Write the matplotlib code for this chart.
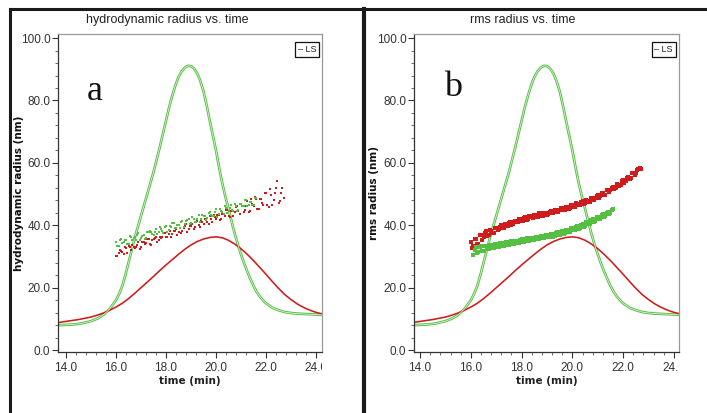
import matplotlib
matplotlib.use("Agg")
import matplotlib.pyplot as plt
from matplotlib import font_manager
from matplotlib.lines import Line2D
from matplotlib.ticker import AutoMinorLocator, FormatStrFormatter
from matplotlib.transforms import Bbox, TransformedBbox

# ---------------- data ----------------
ls_t = [13.75, 14.0, 14.25, 14.5, 14.75, 15.0, 15.25, 15.5, 15.75, 16.0, 16.125, 16.25,
        16.375, 16.5, 16.625, 16.75, 16.875, 17.0, 17.125, 17.25, 17.375, 17.5, 17.625,
        17.75, 17.875, 18.0, 18.125, 18.25, 18.375, 18.5, 18.625, 18.75, 18.875, 19.0,
        19.125, 19.25, 19.375, 19.5, 19.625, 19.75, 19.875, 20.0, 20.125, 20.25, 20.375,
        20.5, 20.625, 20.75, 20.875, 21.0, 21.125, 21.25, 21.375, 21.5, 21.625, 21.75,
        21.875, 22.0, 22.25, 22.5, 22.75, 23.0, 23.25, 23.5, 23.75, 24.0, 24.25]
ls_signal = [8.0, 8.1, 8.2, 8.4, 8.8, 9.3, 10.1, 11.3, 13.2, 16.0, 18.0, 20.5,
             24.0, 28.0, 32.0, 36.0, 39.5, 43.0, 46.5, 50.0, 53.5, 57.0, 61.0,
             65.0, 69.3, 73.5, 77.8, 81.5, 84.8, 87.5, 89.3, 90.5, 91.1, 91.0,
             90.2, 88.7, 86.2, 83.0, 78.5, 73.5, 68.8, 64.0, 58.5, 53.5, 49.2,
             45.3, 41.2, 37.3, 33.8, 30.7, 27.8, 25.2, 22.8, 20.6, 18.7, 17.2,
             16.0, 15.0, 13.6, 12.8, 12.2, 11.9, 11.7, 11.6, 11.5, 11.4, 11.3]
ri_t = [13.75, 14.0, 14.25, 14.5, 14.75, 15.0, 15.25, 15.5, 15.75, 16.0, 16.25, 16.5,
        16.75, 17.0, 17.25, 17.5, 17.75, 18.0, 18.25, 18.5, 18.75, 19.0, 19.25, 19.5,
        19.75, 20.0, 20.25, 20.5, 20.75, 21.0, 21.25, 21.5, 21.75, 22.0, 22.25, 22.5,
        22.75, 23.0, 23.25, 23.5, 23.75, 24.0, 24.25]
ri_signal = [8.9, 9.2, 9.5, 9.8, 10.2, 10.6, 11.2, 11.9, 12.8, 13.8, 15.0, 16.5,
             18.2, 20.0, 21.8, 23.6, 25.5, 27.3, 29.0, 30.7, 32.3, 33.7, 34.8, 35.6,
             36.1, 36.3, 36.0, 35.2, 34.0, 32.5, 30.7, 28.7, 26.5, 24.3, 22.0, 19.8,
             17.8, 16.2, 14.8, 13.7, 12.8, 12.1, 11.6]

# sampling times of the size points
t_a = [16.0, 16.1, 16.2, 16.3, 16.4, 16.5, 16.6, 16.7, 16.8, 16.9,
       17.0, 17.1, 17.2, 17.3, 17.4, 17.5, 17.6, 17.7, 17.8, 17.9,
       18.0, 18.1, 18.2, 18.3, 18.4, 18.5, 18.6, 18.7, 18.8, 18.9,
       19.0, 19.1, 19.2, 19.3, 19.4, 19.5, 19.6, 19.7, 19.8, 19.9,
       20.0, 20.1, 20.2, 20.3, 20.4, 20.5, 20.6, 20.7, 20.8, 20.9,
       21.0, 21.1, 21.2, 21.3, 21.4, 21.5, 21.6, 21.7, 21.8, 21.9,
       22.0, 22.1, 22.2, 22.3, 22.4, 22.5, 22.6, 22.7]
t_b = [16.05, 16.15, 16.25, 16.35, 16.45, 16.55, 16.65, 16.75, 16.85, 16.95,
       17.05, 17.15, 17.25, 17.35, 17.45, 17.55, 17.65, 17.75, 17.85, 17.95,
       18.05, 18.15, 18.25, 18.35, 18.45, 18.55, 18.65, 18.75, 18.85, 18.95,
       19.05, 19.15, 19.25, 19.35, 19.45, 19.55, 19.65, 19.75, 19.85, 19.95,
       20.05, 20.15, 20.25, 20.35, 20.45, 20.55, 20.65, 20.75, 20.85, 20.95,
       21.05, 21.15, 21.25, 21.35, 21.45, 21.55, 21.65, 21.75, 21.85, 21.95,
       22.05, 22.15, 22.25, 22.35, 22.45, 22.55, 22.65]

# panel a: hydrodynamic radius (red run: t_a / t_b ; green run: first 57 / 56 of them)
rh_red_1 = [30.1, 31.0, 31.8, 30.8, 32.7, 33.4, 32.0, 33.0, 32.9, 34.8,
            33.0, 34.5, 34.3, 35.5, 33.8, 35.6, 36.3, 35.2, 35.9, 37.5,
            36.2, 37.2, 36.3, 38.2, 38.7, 37.8, 37.6, 39.1, 40.3, 38.7,
            39.7, 38.7, 40.9, 40.2, 41.7, 40.3, 41.8, 40.3, 42.1, 43.3,
            42.0, 43.3, 42.0, 43.5, 44.9, 43.0, 44.6, 42.9, 45.8, 44.7,
            46.9, 44.3, 46.2, 44.3, 48.4, 46.1, 48.5, 45.2, 48.3, 46.4,
            50.5, 45.8, 49.8, 48.1, 52.0, 47.3, 50.4, 48.6]
rh_red_2 = [30.3, 32.0, 31.5, 33.0, 31.2, 32.9, 33.7, 32.6, 33.6, 32.4,
            34.7, 33.9, 35.6, 34.0, 35.3, 36.0, 34.5, 36.3, 36.1, 37.4,
            36.1, 38.3, 37.1, 38.2, 36.9, 39.0, 38.1, 39.8, 37.9, 39.7,
            40.4, 39.3, 41.3, 39.6, 41.0, 42.0, 40.9, 43.0, 40.9, 42.6,
            43.4, 41.6, 43.7, 42.9, 44.8, 42.6, 45.0, 44.3, 46.3, 43.7,
            46.3, 44.9, 47.8, 44.6, 46.8, 49.0, 45.2, 48.4, 47.2, 50.5,
            46.5, 51.5, 46.4, 50.5, 54.3, 47.9, 52.1]
rh_green_1 = [34.6, 33.4, 35.6, 34.5, 35.4, 34.0, 36.3, 35.8, 35.4, 37.5,
              36.0, 36.9, 35.9, 37.9, 37.7, 36.9, 38.9, 37.9, 38.9, 37.6,
              39.8, 38.6, 39.6, 40.8, 39.2, 40.0, 41.0, 39.3, 41.3, 42.1,
              40.8, 41.9, 40.9, 43.2, 42.1, 43.1, 41.6, 43.9, 43.4, 42.9,
              45.2, 43.6, 44.5, 43.5, 45.7, 44.7, 46.5, 44.7, 46.3, 44.9,
              46.9, 46.3, 48.0, 46.4, 47.6, 46.6, 48.7]
rh_green_2 = [33.4, 35.3, 34.4, 35.4, 34.0, 36.6, 35.2, 36.1, 36.9, 35.4,
              36.7, 35.5, 37.7, 38.3, 37.1, 38.0, 37.2, 39.4, 38.2, 39.5,
              38.0, 39.7, 40.6, 39.2, 40.2, 39.0, 41.4, 40.4, 41.6, 40.4,
              42.8, 41.2, 42.1, 41.2, 43.3, 43.0, 42.2, 44.4, 43.0, 44.2,
              42.8, 45.1, 44.2, 46.1, 44.0, 45.4, 44.8, 46.7, 44.7, 46.8,
              46.1, 48.1, 46.1, 47.5, 46.4, 48.8]

# panel b: rms radius (red run: t_a / t_b ; green run: t_a[1:57] / t_b[1:56])
rg_red_1 = [34.7, 33.3, 35.5, 34.1, 36.9, 36.3, 38.1, 37.0, 38.2, 37.6,
            39.2, 38.8, 40.0, 39.2, 40.1, 40.8, 40.0, 41.2, 41.0, 42.1,
            41.4, 42.2, 41.6, 42.9, 42.5, 43.2, 42.5, 43.8, 43.1, 43.8,
            43.2, 44.4, 44.0, 44.9, 44.3, 45.0, 45.7, 44.9, 45.9, 45.7,
            46.6, 45.8, 46.9, 46.6, 47.8, 47.1, 47.9, 47.6, 48.8, 48.6,
            49.8, 49.3, 50.3, 49.8, 51.4, 51.2, 52.2, 51.8, 53.0, 52.9,
            54.5, 54.3, 55.4, 55.3, 56.8, 56.7, 58.1, 57.9]
rg_red_2 = [32.6, 35.6, 33.9, 36.8, 35.4, 37.6, 36.6, 38.5, 37.6, 39.0,
            38.5, 39.6, 39.1, 40.3, 39.8, 40.9, 40.4, 41.5, 40.9, 42.0,
            41.5, 42.5, 41.9, 42.9, 42.3, 43.4, 42.7, 43.8, 43.1, 44.1,
            43.5, 44.6, 43.9, 45.0, 44.4, 45.5, 44.8, 46.0, 45.3, 46.5,
            45.8, 47.1, 46.4, 47.6, 46.9, 48.2, 47.5, 48.8, 48.1, 49.5,
            48.9, 50.3, 49.7, 51.2, 50.6, 52.1, 51.5, 53.1, 52.5, 54.2,
            53.7, 55.3, 54.9, 56.6, 56.2, 57.7, 58.4]
rg_green_1 = [30.5, 32.9, 31.6, 33.5, 31.9, 33.4, 32.4, 33.8, 32.7, 33.9,
              33.2, 34.3, 33.5, 34.5, 33.8, 34.9, 34.1, 35.0, 34.4, 35.5,
              34.7, 35.8, 35.0, 36.0, 35.3, 36.4, 35.6, 36.7, 35.9, 37.0,
              36.2, 37.3, 36.6, 37.7, 37.0, 38.1, 37.4, 38.6, 38.0, 39.2,
              38.6, 39.8, 39.2, 40.4, 39.7, 41.1, 40.5, 41.9, 41.3, 42.8,
              42.1, 43.6, 42.9, 44.4, 43.8, 45.3]
rg_green_2 = [32.1, 31.2, 33.0, 31.8, 33.3, 32.3, 33.6, 32.6, 33.9, 32.9,
              34.2, 33.3, 34.4, 33.7, 34.8, 34.0, 35.1, 34.3, 35.4, 34.6,
              35.7, 34.9, 36.0, 35.2, 36.3, 35.5, 36.6, 35.8, 36.9, 36.1,
              37.2, 36.4, 37.6, 36.8, 38.0, 37.2, 38.5, 37.8, 39.0, 38.4,
              39.6, 38.9, 40.2, 39.5, 40.9, 40.3, 41.7, 41.0, 42.5, 41.9,
              43.3, 42.7, 44.1, 43.5, 45.0]

x_ticks = [14.0, 16.0, 18.0, 20.0, 22.0, 24.0]
y_ticks = [0.0, 20.0, 40.0, 60.0, 80.0, 100.0]

# ---------------- style ----------------
names = {f.name for f in font_manager.fontManager.ttflist}
narrow = "Liberation Sans Narrow" if "Liberation Sans Narrow" in names else "Liberation Sans"

GREEN = "#55BF44"
RED = "#CF1B1B"
W, H = 707, 413

fig = plt.figure(figsize=(W / 100, H / 100), dpi=100)
fig.patch.set_facecolor("white")


def px_axes(l, r, t, b):
    return [l / W, 1 - b / H, (r - l) / W, (b - t) / H]


panels = [
    dict(rect=px_axes(58, 322, 34, 352), xlim=(13.68, 24.24), ms=1.9,
         red=((t_a, rh_red_1), (t_b, rh_red_2)),
         green=((t_a[:57], rh_green_1), (t_b[:56], rh_green_2)),
         title="hydrodynamic radius vs. time", title_x=167,
         ylabel="hydrodynamic radius (nm)", ylabel_x=19, letter="a", letter_xy=(95, 92)),
    dict(rect=px_axes(414, 679, 34, 352), xlim=(13.76, 24.2), ms=2.6,
         red=((t_a, rg_red_1), (t_b, rg_red_2)),
         green=((t_a[1:57], rg_green_1), (t_b[1:56], rg_green_2)),
         title="rms radius vs. time", title_x=523,
         ylabel="rms radius (nm)", ylabel_x=374, letter="b", letter_xy=(453, 88)),
]

for p in panels:
    ax = fig.add_axes(p["rect"])
    ax.set_xlim(*p["xlim"])
    ax.set_ylim(-0.6, 101.3)

    # detector traces (double-line look of two overlaid runs)
    ax.plot(ls_t, ls_signal, color=GREEN, lw=1.9, zorder=2)
    ax.plot(ls_t, ls_signal, color="#e4f5e0", lw=0.55, zorder=2.1)
    ax.plot(ri_t, ri_signal, color=RED, lw=1.15, zorder=2)

    for tt, ys in p["red"]:
        ax.plot(tt, ys, ls="none", marker="s", ms=p["ms"], mew=0, color=RED, zorder=3)
    for tt, ys in p["green"]:
        ax.plot(tt, ys, ls="none", marker="s", ms=p["ms"], mew=0, color=GREEN, zorder=3)

    ax.set_xticks(x_ticks)
    ax.set_yticks(y_ticks)
    ax.xaxis.set_minor_locator(AutoMinorLocator(5))
    ax.yaxis.set_minor_locator(AutoMinorLocator(5))
    ax.xaxis.set_major_formatter(FormatStrFormatter("%.1f"))
    ax.yaxis.set_major_formatter(FormatStrFormatter("%.1f"))
    ax.tick_params(which="major", direction="out", length=4, width=0.8, color="#333333",
                   labelsize=8.5, labelcolor="#333333", pad=1.5)
    ax.tick_params(which="minor", direction="out", length=2.2, width=0.6, color="#555555")
    ax.tick_params(axis="x", which="major", pad=3)
    for lab in ax.get_xticklabels() + ax.get_yticklabels():
        lab.set_fontfamily(narrow)

    for s in ("left", "bottom"):
        ax.spines[s].set_color("#333333")
        ax.spines[s].set_linewidth(0.9)
    for s in ("top", "right"):
        ax.spines[s].set_color("#999999")
        ax.spines[s].set_linewidth(0.9)

    ax.set_xlabel("time (min)", fontsize=7.5, fontweight="bold", family="DejaVu Sans",
                  color="#222222", labelpad=2)

    # the last tick label is cut at the right edge of the plot in the original
    clip = TransformedBbox(Bbox([[-0.2, -0.5], [1.0, 1.0]]), ax.transAxes)
    for lab in ax.get_xticklabels():
        lab.set_clip_box(clip)
        lab.set_clip_on(True)

    ax.annotate("– LS", xy=(1, 1), xycoords="axes fraction", xytext=(-6, -11),
                textcoords="offset pixels", ha="right", va="top", fontsize=6.5,
                family=narrow, color="#222222",
                bbox=dict(boxstyle="square,pad=0.3", fc="white", ec="#111111", lw=0.9))

    fig.text(p["title_x"] / W, 1 - 20 / H, p["title"], ha="center", va="center",
             fontsize=9, family=narrow, color="#222222")
    fig.text(p["ylabel_x"] / W, 1 - 193 / H, p["ylabel"], ha="center", va="center",
             rotation=90, fontsize=7.5, fontweight="bold", family="DejaVu Sans",
             color="#111111")
    lx, ly = p["letter_xy"]
    fig.text(lx / W, 1 - ly / H, p["letter"], ha="center", va="center",
             fontsize=26, family="Liberation Serif", color="#111111")

# outer frame lines
fig.add_artist(Line2D([10 / W, 1.0], [1 - 9 / H, 1 - 9 / H], color="#1a1a1a", lw=2.2,
                      transform=fig.transFigure))
fig.add_artist(Line2D([10 / W, 10 / W], [0, 1 - 9 / H], color="#1a1a1a", lw=2.2,
                      transform=fig.transFigure))
fig.add_artist(Line2D([364 / W, 364 / W], [0, 1 - 9 / H], color="#1a1a1a", lw=3.0,
                      transform=fig.transFigure))

fig.savefig("out.png", dpi=100, facecolor="white")
